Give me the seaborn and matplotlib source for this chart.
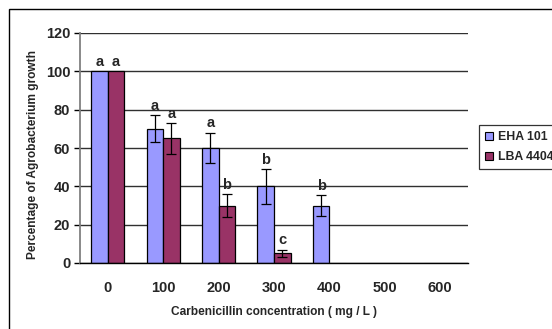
import numpy as np
import pandas as pd
import matplotlib
matplotlib.use("Agg")
import matplotlib.pyplot as plt
from matplotlib.patches import Rectangle
import seaborn as sns

# ==========================================
# Data
# ==========================================
concentrations = ["0", "100", "200", "300", "400", "500", "600"]
strains = ["EHA 101", "LBA 4404"]
eha_growth = [100, 70, 60, 40, 30, 0, 0]
lba_growth = [100, 65, 30, 5, 0, 0, 0]
eha_err = [0, 7, 8, 9, 5.5, 0, 0]
lba_err = [0, 8, 6, 2, 0, 0, 0]
eha_letters = ["a", "a", "a", "b", "b", "", ""]
lba_letters = ["a", "a", "b", "c", "", "", ""]

COLORS = {"EHA 101": "#9999FF", "LBA 4404": "#993366"}

df = pd.DataFrame({
    "conc": concentrations * 2,
    "strain": [strains[0]] * 7 + [strains[1]] * 7,
    "growth": eha_growth + lba_growth,
    "err": eha_err + lba_err,
    "letter": eha_letters + lba_letters,
})

# ==========================================
# Plot
# ==========================================
sns.set_style("white")
plt.rcParams["font.family"] = ["Liberation Sans", "DejaVu Sans"]
plt.rcParams["font.weight"] = "bold"

fig = plt.figure(figsize=(5.52, 3.29), dpi=100)
ax = fig.add_axes([80 / 552, 1 - 263 / 329, 388 / 552, 230 / 329])

sns.barplot(data=df, x="conc", y="growth", hue="strain", order=concentrations,
            hue_order=strains, palette=COLORS, width=0.6, saturation=1,
            edgecolor="black", linewidth=0.9, errorbar=None, legend=False, ax=ax)

# error bars + significance letters on top of each bar
for patch, (_, row) in zip(ax.patches, df.iterrows()):
    xc = patch.get_x() + patch.get_width() / 2
    h = patch.get_height()
    if row["err"] > 0:
        ax.errorbar(xc, h, yerr=row["err"], fmt="none", ecolor="black",
                    elinewidth=0.9, capsize=3.5, capthick=0.9, zorder=4)
    if row["letter"]:
        ax.text(xc, h + row["err"] + 1.2, row["letter"], ha="center", va="bottom",
                fontsize=10.5, fontweight="bold")
    if h == 0:
        patch.set_edgecolor("#c8c8c8")

ax.set_ylim(0, 120)
ax.set_xlim(-0.5, 6.5)
ax.set_yticks(np.arange(0, 121, 20))
ax.yaxis.grid(True, color="#303030", linewidth=1.0)
ax.set_axisbelow(True)

for s in ["top", "right"]:
    ax.spines[s].set_visible(False)
ax.spines["left"].set_color("#808080")
ax.spines["left"].set_linewidth(1.3)
ax.spines["bottom"].set_color("black")
ax.spines["bottom"].set_linewidth(1.0)

ax.set_xticks(np.arange(-0.5, 7, 1), minor=True)
ax.tick_params(axis="x", which="major", length=0, pad=13, labelsize=10.5)
ax.tick_params(axis="x", which="minor", length=4, width=1, color="black", direction="out")
ax.tick_params(axis="y", length=4, width=1, color="black", direction="out",
               labelsize=10.5, pad=3, left=True)
for lab in ax.get_xticklabels() + ax.get_yticklabels():
    lab.set_fontweight("bold")

ax.set_xlabel("Carbenicillin concentration ( mg / L )", fontsize=8.6,
              fontweight="bold", labelpad=8)
ax.set_ylabel("Percentage of Agrobacterium growth", fontsize=8.6,
              fontweight="bold", va="center")
ax.yaxis.set_label_coords(-0.121, 0.47)

# legend (partly cropped at the right edge, like the original)
handles = [Rectangle((0, 0), 1, 1, facecolor=COLORS[s], edgecolor="black", linewidth=0.8)
           for s in strains]
leg = fig.legend(handles, strains, loc="upper left", bbox_to_anchor=(479 / 552, 1 - 125 / 329),
                 frameon=True, fancybox=False, edgecolor="black", fontsize=8.8,
                 handlelength=0.65, handleheight=0.65, handletextpad=0.4,
                 labelspacing=0.65, borderpad=0.5, borderaxespad=0)
leg.get_frame().set_linewidth(0.9)
for t in leg.get_texts():
    t.set_fontweight("bold")

# outer chart frame (cropped at right and bottom)
fig.patches.append(Rectangle((9 / 552, -0.1), 2, 1.1 - 9 / 329, transform=fig.transFigure,
                             fill=False, edgecolor="black", linewidth=1.0, clip_on=False))

fig.savefig("out.png", dpi=100)
